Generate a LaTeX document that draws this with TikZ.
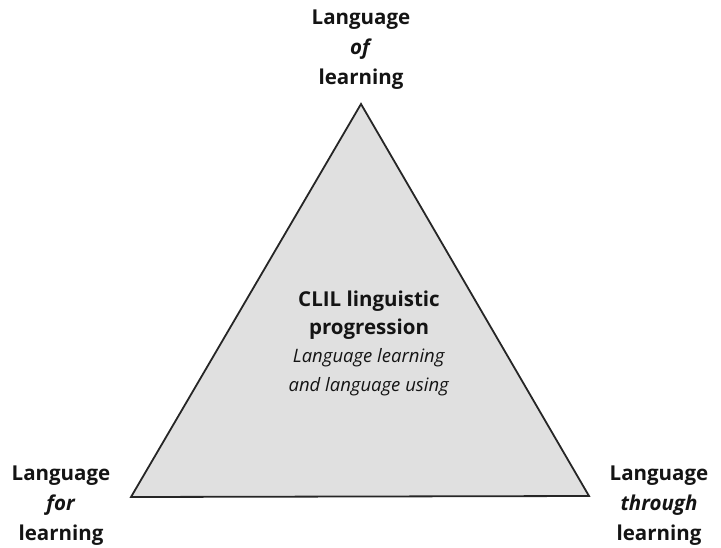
\documentclass[tikz,border=0pt]{standalone}
\usepackage{fontspec}
\setmainfont{Open Sans}
\begin{document}
\begin{tikzpicture}[x=1pt,y=-1pt,
  lbl/.style={font=\fontsize{20.5}{30}\selectfont, align=center, inner sep=0pt, text=black!92},
  mid/.style={font=\fontsize{18.5}{28.3}\selectfont, align=center, inner sep=0pt, text=black!92}]
\useasboundingbox (0,0) rectangle (721,547);
\coordinate (A) at (361,104);
\coordinate (B) at (131,497);
\coordinate (C) at (589,496);
\filldraw[fill=black!12, draw=black!85, line width=1.8pt, line join=miter] (A) -- (B) -- (C) -- cycle;
\node[lbl, anchor=center] (top) at (361,50) {\textbf{Language}\\\textbf{\textit{of}}\\\textbf{learning}};
\node[lbl, anchor=center] (left) at (61,506) {\textbf{Language}\\\textbf{\textit{for}}\\\textbf{learning}};
\node[lbl, anchor=center] (right) at (659,506) {\textbf{Language}\\\textbf{\textit{through}}\\\textbf{learning}};
\node[mid, anchor=center] (centre) at (369,343) {{\fontsize{20.5}{28.3}\selectfont\textbf{CLIL linguistic}}\\{\fontsize{20.5}{28.3}\selectfont\textbf{progression}}\\\textit{Language learning}\\\textit{and language using}};
\end{tikzpicture}
\end{document}
